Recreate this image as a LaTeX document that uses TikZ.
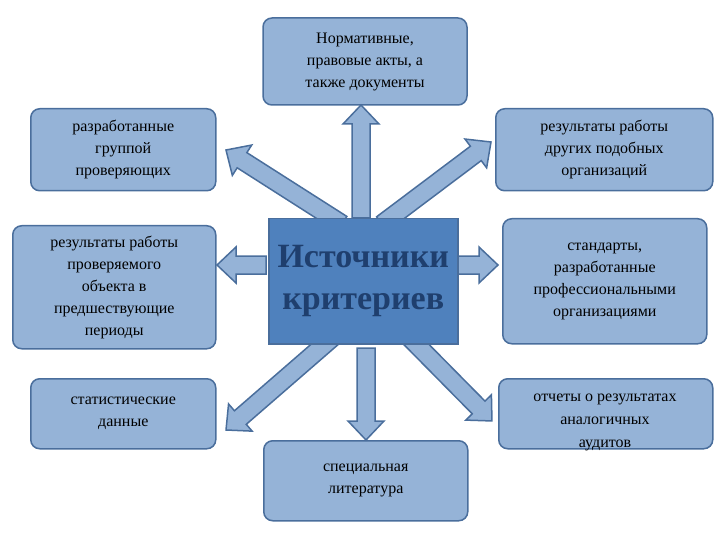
\documentclass[tikz,border=0pt]{standalone}
\usepackage{fontspec}
\setmainfont{Liberation Serif}
\newfontfamily\rmf{Liberation Serif}
\usetikzlibrary{calc}
\definecolor{bfill}{HTML}{95B3D7}
\definecolor{bdraw}{HTML}{4A6E9C}
\definecolor{cfill}{HTML}{4F81BD}
\definecolor{ctext}{HTML}{1F3F6E}
\tikzset{
  box/.style={draw=bdraw,fill=bfill,line width=1.5pt,rounded corners=9pt,align=center,
    font=\rmf\fontsize{16}{22}\selectfont,inner sep=2pt},
  center/.style={draw=bdraw,fill=cfill,line width=1.5pt,align=center,text=ctext,
    font=\rmf\fontsize{34}{42}\selectfont},
  arr/.style={draw=bdraw,fill=bfill,line width=1.5pt,line join=miter}
}
\newcommand\barrow[2]{\draw[arr] let \p1=(#1), \p2=(#2), \n1={atan2(\y2-\y1,\x2-\x1)}, \n2={veclen(\x2-\x1,\y2-\y1)} in [shift={(\p1)}, rotate=\n1] (0,-9) -- (\n2-19,-9) -- (\n2-19,-18) -- (\n2,0) -- (\n2-19,18) -- (\n2-19,9) -- (0,9) -- cycle;}
\begin{document}
\begin{tikzpicture}[x=1pt,y=-1pt]
\useasboundingbox (0,0) rectangle (720,540);
\node[box,minimum width=204pt,minimum height=87pt] (top) at (365,61.5) {Нормативные,\\правовые акты, а\\также документы};
\node[box,minimum width=185pt,minimum height=82pt,anchor=north west] (tl) at (30,108) {разработанные\\группой\\проверяющих};
\node[box,minimum width=217pt,minimum height=82pt,anchor=north west] (tr) at (495,108) {результаты работы\\других подобных\\организаций};
\node[box,minimum width=203pt,minimum height=123pt,anchor=north west] (l) at (12,225) {результаты работы\\проверяемого\\объекта в\\предшествующие\\периоды};
\node[box,minimum width=204pt,minimum height=125pt,anchor=north west] (r) at (502,218) {стандарты,\\разработанные\\профессиональными\\организациями};
\node[box,minimum width=185pt,minimum height=70pt,anchor=north west] (bl) at (30,378) {статистические\\данные};
\node[box,minimum width=214pt,minimum height=70pt,anchor=north west] (br) at (498,378) {};
\node[align=center,font=\rmf\fontsize{16}{23}\selectfont] (brt) at (605,422) {отчеты о результатах\\аналогичных\\аудитов};
\node[box,minimum width=204pt,minimum height=80pt,anchor=north west] (bot) at (263,440) {специальная\\литература};
\coordinate (a1s) at (361,218); \coordinate (a1e) at (361,105);
\coordinate (a2s) at (342,224); \coordinate (a2e) at (226,150);
\coordinate (a3s) at (382,224); \coordinate (a3e) at (491,142);
\coordinate (a4s) at (266,265); \coordinate (a4e) at (217,265);
\coordinate (a5s) at (457,265); \coordinate (a5e) at (498,265);
\coordinate (a6s) at (332,338); \coordinate (a6e) at (226,430);
\coordinate (a7s) at (366,348); \coordinate (a7e) at (366,440);
\coordinate (a8s) at (410,338); \coordinate (a8e) at (492,421);
\barrow{a1s}{a1e}\barrow{a2s}{a2e}\barrow{a3s}{a3e}\barrow{a4s}{a4e}
\barrow{a5s}{a5e}\barrow{a6s}{a6e}\barrow{a7s}{a7e}\barrow{a8s}{a8e}
\node[center,minimum width=189pt,minimum height=125pt,anchor=north west] (c) at (268,218) {\bfseries Источники\\\bfseries критериев};
\end{tikzpicture}
\end{document}
